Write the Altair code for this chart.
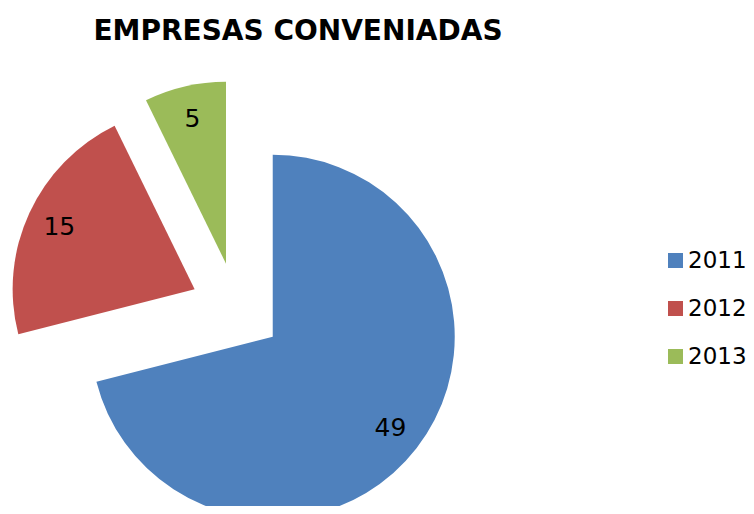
import altair as alt
import pandas as pd

years = ["2011", "2012", "2013"]
values = [49, 15, 5]
colors = ["#4F81BD", "#C0504D", "#9BBB59"]

df = pd.DataFrame({"year": years, "value": values, "order": [0, 1, 2]})

# layout parameters (plot-area pixel coordinates)
CX, CY = 228.4, 240.5
R = 182
EXPLODE = 46
LABEL_R = 149
FONT = "DejaVu Sans"

base = alt.Chart(df).transform_joinaggregate(
    total="sum(value)"
).transform_window(
    cum="sum(value)", sort=[alt.SortField("order")], frame=[None, 0]
).transform_calculate(
    t1="2*PI*datum.cum/datum.total",
    t0="2*PI*(datum.cum-datum.value)/datum.total",
).transform_calculate(
    mid="(datum.t0+datum.t1)/2"
).transform_calculate(
    cx=f"{CX}+{EXPLODE}*sin(datum.mid)",
    cy=f"{CY}-{EXPLODE}*cos(datum.mid)",
).transform_calculate(
    lx=f"datum.cx+{LABEL_R}*sin(datum.mid)",
    ly=f"datum.cy-{LABEL_R}*cos(datum.mid)",
)

arcs = base.mark_arc(radius=R, stroke=None).encode(
    x=alt.X("cx:Q", scale=None, axis=None),
    y=alt.Y("cy:Q", scale=None, axis=None),
    theta=alt.Theta("t0:Q", scale=None, stack=None),
    theta2="t1:Q",
    color=alt.Color(
        "year:N",
        scale=alt.Scale(domain=years, range=colors),
        legend=alt.Legend(
            title=None,
            orient="none",
            legendX=656,
            legendY=181,
            symbolType="square",
            symbolSize=225,
            symbolStrokeWidth=0,
            symbolOpacity=1,
            labelFont=FONT,
            labelFontSize=23,
            labelColor="black",
            labelOffset=1,
            rowPadding=24,
            padding=0,
        ),
    ),
)

labels = base.mark_text(
    font=FONT, fontSize=25, color="black", align="center", baseline="middle"
).encode(
    x=alt.X("lx:Q", scale=None, axis=None),
    y=alt.Y("ly:Q", scale=None, axis=None),
    text="value:Q",
)

chart = alt.layer(arcs, labels).properties(
    width=738,
    height=438,
    padding={"left": 0, "top": 60, "right": 0, "bottom": 0},
    autosize=alt.AutoSizeParams(type="none"),
    title=alt.TitleParams(
        "EMPRESAS CONVENIADAS",
        font=FONT,
        fontSize=28,
        fontWeight="bold",
        color="black",
        anchor="middle",
        dx=-79,
        baseline="alphabetic",
        offset=0,
    ),
).configure_view(stroke=None)

chart.save("out.html", embed_options={"renderer": "svg", "actions": False})
